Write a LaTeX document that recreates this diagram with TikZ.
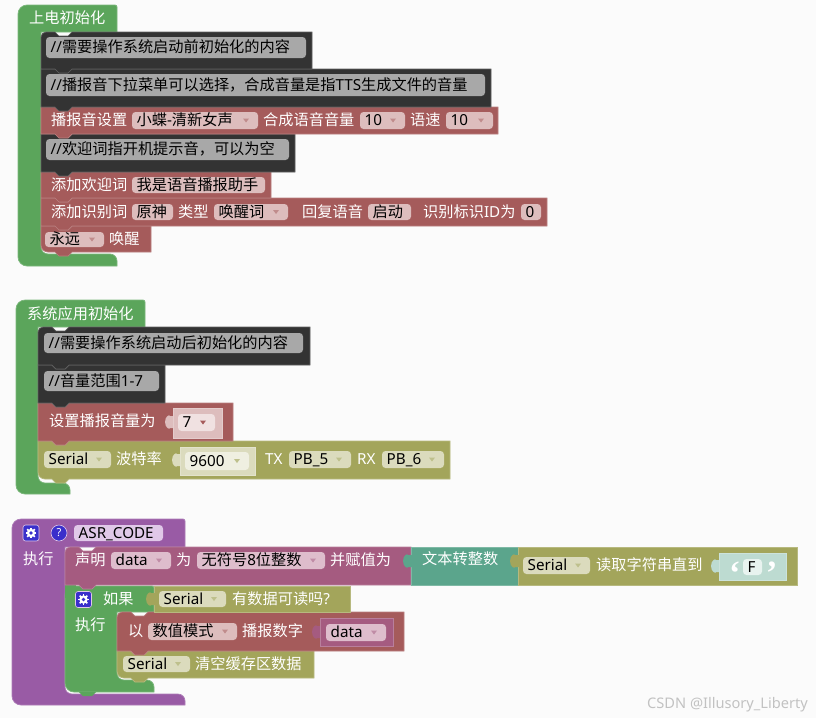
\documentclass[tikz,border=0pt]{standalone}
\usepackage{fontspec}
\setmainfont{Noto Sans CJK SC}
\newfontfamily\lat{Noto Sans}
\newfontfamily\qf{Liberation Serif}
\definecolor{bgc}{HTML}{FBFBFB}
\definecolor{grn}{HTML}{5BA55B}
\definecolor{drk}{HTML}{333333}
\definecolor{red}{HTML}{A55B5B}
\definecolor{yel}{HTML}{A3A55B}
\definecolor{teal}{HTML}{5BA58C}
\definecolor{pur}{HTML}{995BA5}
\definecolor{rpu}{HTML}{A55B80}
\definecolor{icb}{HTML}{3A2FCB}
\definecolor{fcm}{HTML}{A8A8A8}
\definecolor{frd}{HTML}{DDBDBD}
\definecolor{fye}{HTML}{DBDBBD}
\definecolor{frp}{HTML}{DEBDCC}
\definecolor{fpu}{HTML}{E0C8E8}
\definecolor{fte}{HTML}{BDDBD1}
\tikzset{
  shell/.style={line width=0.7pt},
  wtext/.style={anchor=base west,inner sep=0pt,text=white,font=\fontsize{15.2}{15.2}\selectfont},
  btext/.style={anchor=base west,inner sep=0pt,text=black,font=\fontsize{15.2}{15.2}\selectfont},
  fieldshape/.style={rounded corners=3.5pt},
  wmark/.style={anchor=base west,inner sep=0pt,text=black!24,font=\fontsize{14.6}{14.6}\selectfont},
  quotemark/.style={anchor=base west,inner sep=0pt,text=white,font=\fontsize{34}{34}\selectfont\qf\bfseries},
}
% C-shaped statement container
\newcommand{\hatblk}[9]{%
  \draw[shell,fill=#9,draw=#9!80!white] (#8,#7) [rounded corners=9pt] -- (#1,#7) [rounded corners=9pt] -- (#1,#2) [rounded corners=2pt] -- (#3,#2) [sharp corners] -- (#3,#4) -- (#5,#4) [rounded corners=7pt] -- (#5,#6) -- (#8,#6) [sharp corners] -- cycle;}
% stack block with notch and bump
\newcommand{\blk}[7]{%
  \draw[shell,fill=#7,draw=#7!78!white] (#3,{(#4+#6)/2}) [rounded corners=#1pt] -- (#3,#4) [sharp corners] -- (#3+14,#4) -- (#3+18,#4+4) -- (#3+27,#4+4) -- (#3+31,#4) -- (#5,#4) -- (#5,#6) -- (#3+31,#6) -- (#3+27,#6+4) -- (#3+18,#6+4) -- (#3+14,#6) [rounded corners=#2pt] -- (#3,#6) [sharp corners] -- cycle;}
% value block
\newcommand{\vblk}[5]{%
  \draw[shell,fill=#5,draw=#5!78!white] (#1,#2) rectangle (#3,#4);}
\newcommand{\tabshape}[3]{%
  \fill[#3] (#1+1,#2+1) -- (#1-3,#2+1) .. controls (#1-3,#2-1) and (#1-8,#2+1) .. (#1-8,#2+7) .. controls (#1-8,#2+13) and (#1-3,#2+15) .. (#1-3,#2+13) -- (#1+1,#2+13) -- cycle;}
\newcommand{\bumpshape}[3]{%
  \fill[#3] (#1+14,#2) -- (#1+18,#2+4) -- (#1+27,#2+4) -- (#1+31,#2) -- cycle;}
% field: name,x1,y1,x2,y2,fill,text
\newcommand{\fld}[7]{%
  \fill[#6,fieldshape] (#2,#3) rectangle (#4,#5);
  \node[btext] (#1) at (#2+4.5,{(#3+#5)/2+5.3}) {#7};}
% dropdown: name,x1,y1,x2,y2,fill,text,arrow colour
\newcommand{\ddn}[8]{%
  \fld{#1}{#2}{#3}{#4}{#5}{#6}{#7}
  \fill[#8] (#4-15,{(#3+#5)/2-2}) -- (#4-9,{(#3+#5)/2-2}) -- (#4-12,{(#3+#5)/2+2}) -- cycle;}
\newcommand{\lab}[4]{\node[wtext] (#1) at (#2,#3+5.3) {#4};}
\newcommand{\gear}[3]{%
  \draw[fill=icb,draw=fpu,line width=0.6pt,rounded corners=2.5pt] (#2-8,#3-8) rectangle (#2+8,#3+8);
  \foreach \a in {0,45,...,315} {\draw[white,line width=1.7pt] (#2,#3) -- ++(\a:5.4);}
  \fill[white] (#2,#3) circle (4.2pt);
  \node[circle,fill=icb,inner sep=0pt,minimum size=3.6pt] (#1) at (#2,#3) {};}
\begin{document}
\begin{tikzpicture}[x=1pt,y=-1pt]
\useasboundingbox (0,0) rectangle (816,718);
\fill[bgc] (0,0) rectangle (816,718);

%% ---------- first group ----------
\hatblk{18}{5}{117}{32}{41}{254}{266}{117}{grn}
\node[wtext] (h1) at (29,23) {上电初始化};
\blk{0.01}{7}{41}{226}{151}{252}{red}
\blk{0.01}{0.01}{41}{198}{547}{226}{red}
\blk{0.01}{0.01}{41}{172}{271}{198}{red}
\blk{0.01}{0.01}{41}{134}{295}{172}{drk}
\blk{0.01}{0.01}{41}{107}{498}{134}{red}
\blk{0.01}{0.01}{41}{69}{491}{107}{drk}
\blk{5}{0.01}{41}{32}{312}{69}{drk}
\fld{c1}{46}{37}{306}{58}{fcm}{{\lat//}需要操作系统启动前初始化的内容}
\fld{c2}{46}{74}{485}{96}{fcm}{{\lat//}播报音下拉菜单可以选择，合成音量是指{\lat TTS}生成文件的音量}
\lab{a1}{51}{120.5}{播报音设置}
\ddn{a2}{132}{112}{258}{129}{frd}{小蝶{\lat -}清新女声}{red!70!white}
\lab{a3}{263}{120.5}{合成语音音量}
\ddn{a4}{360}{112}{405}{129}{frd}{{\lat 10}}{red!70!white}
\lab{a5}{410}{120.5}{语速}
\ddn{a6}{446}{112}{493}{129}{frd}{{\lat 10}}{red!70!white}
\fld{c3}{46}{139}{289}{160}{fcm}{{\lat//}欢迎词指开机提示音，可以为空}
\lab{b1}{51}{185}{添加欢迎词}
\fld{b2}{132}{177}{265}{193}{frd}{我是语音播报助手}
\lab{d1}{51}{212}{添加识别词}
\fld{d2}{132}{204}{173}{220}{frd}{原神}
\lab{d3}{178}{212}{类型}
\ddn{d4}{214}{204}{288}{220}{frd}{唤醒词}{red!70!white}
\lab{d5}{302}{212}{回复语音}
\fld{d6}{368}{204}{411}{220}{frd}{启动}
\lab{d7}{423}{212}{识别标识{\lat ID}为}
\fld{d8}{521}{204}{541}{220}{frd}{{\lat 0}}
\ddn{e1}{45}{232}{104}{247}{frd}{永远}{red!70!white}
\lab{e2}{109}{239.5}{唤醒}

%% ---------- second group ----------
\hatblk{16}{300}{145}{327}{38}{483}{494}{70}{grn}
\node[wtext] (h2) at (27,319) {系统应用初始化};
\blk{0.01}{7}{38}{441}{450}{479}{yel}
\blk{0.01}{0.01}{38}{403}{233}{441}{red}
\blk{0.01}{0.01}{38}{365}{165}{403}{drk}
\blk{5}{0.01}{38}{327}{310}{365}{drk}
\fld{c4}{44}{333}{303}{353}{fcm}{{\lat//}需要操作系统启动后初始化的内容}
\fld{c5}{44}{371}{159}{391}{fcm}{{\lat//}音量范围{\lat 1-7}}
\lab{f1}{49}{421}{设置播报音量为}
\tabshape{173}{415}{frd}
\vblk{173}{408}{222}{438}{frd}
\ddn{f2}{178}{414}{215}{431}{white!55!frd}{{\lat 7}}{red}
\ddn{g1}{44}{451}{111}{468}{fye}{{\lat Serial}}{yel!70!white}
\lab{g2}{116}{459}{波特率}
\tabshape{180}{453}{fye}
\vblk{180}{447}{255}{475}{fye}
\ddn{g3}{185}{452}{249}{470}{white!55!fye}{{\lat 9600}}{yel!70!white}
\lab{g4}{265}{459}{{\lat TX}}
\ddn{g5}{289}{451}{351}{468}{fye}{{\lat PB\_5}}{yel!70!white}
\lab{g6}{357}{459}{{\lat RX}}
\ddn{g7}{382}{451}{444}{468}{fye}{{\lat PB\_6}}{yel!70!white}

%% ---------- third group ----------
\hatblk{12}{519}{185}{547}{65}{694}{705}{185}{pur}
\gear{p1}{31}{533}
\node[circle,fill=icb,draw=fpu,line width=0.6pt,inner sep=0pt,minimum size=16pt,text=white,font=\fontsize{11}{11}\selectfont\bfseries\lat] (p2) at (59,533) {?};
\fld{p3}{74}{525}{163}{541}{fpu}{{\lat ASR\_CODE}}
\lab{p4}{23}{559}{执行}

\hatblk{65}{586}{154}{612}{117}{680}{692}{154}{grn}
\fill[grn] (65,585) rectangle (76,598);
\bumpshape{65}{692}{grn}
\blk{0.01}{7}{117}{651}{314}{678}{yel}
\blk{5}{0.01}{117}{612}{404}{651}{red}
\blk{5}{0.01}{65}{547}{411}{585}{rpu}

\lab{q1}{75}{560}{声明}
\ddn{q2}{111}{552}{171}{569}{frp}{{\lat data}}{rpu!70!white}
\lab{q3}{176}{560}{为}
\ddn{q4}{197}{552}{325}{569}{frp}{无符号{\lat 8}位整数}{rpu!70!white}
\lab{q5}{330}{560}{并赋值为}
\vblk{411}{547}{518}{585}{teal}
\tabshape{411}{554}{teal}
\lab{r1}{422}{559}{文本转整数}
\vblk{518}{547}{797}{585}{yel}
\tabshape{518}{554}{yel}
\ddn{r2}{523}{557}{590}{574}{fye}{{\lat Serial}}{yel!70!white}
\lab{r3}{596}{565}{读取字符串直到}
\tabshape{719}{559}{fte}
\vblk{719}{553}{786}{580}{fte}
\node[quotemark] (r4) at (729,584) {‘};
\fld{r5}{743}{559}{762}{575}{white!65!fte}{{\lat F}}
\node[quotemark] (r6) at (766,584) {’};

\gear{s1}{83.5}{599.5}
\lab{s2}{103}{599}{如果}
\lab{s3}{75}{625}{执行}
\vblk{154}{586}{350}{612}{yel}
\tabshape{154}{592}{yel}
\ddn{s4}{159}{591}{226}{607}{fye}{{\lat Serial}}{yel!70!white}
\lab{s5}{232}{599}{有数据可读吗{\lat ?}}

\lab{t1}{128}{631}{以}
\ddn{t2}{148}{623}{237}{640}{frd}{数值模式}{red!70!white}
\lab{t3}{242}{631}{播报数字}
\tabshape{320}{625}{rpu}
\vblk{320}{618}{393}{646}{rpu}
\ddn{t4}{326}{624}{386}{641}{frp}{{\lat data}}{rpu!70!white}
\ddn{u1}{123}{656}{190}{672}{fye}{{\lat Serial}}{yel!70!white}
\lab{u2}{195}{664}{清空缓存区数据}

\node[wmark] (wm) at (647,708) {{\lat CSDN @Illusory\_Liberty}};
\end{tikzpicture}
\end{document}
